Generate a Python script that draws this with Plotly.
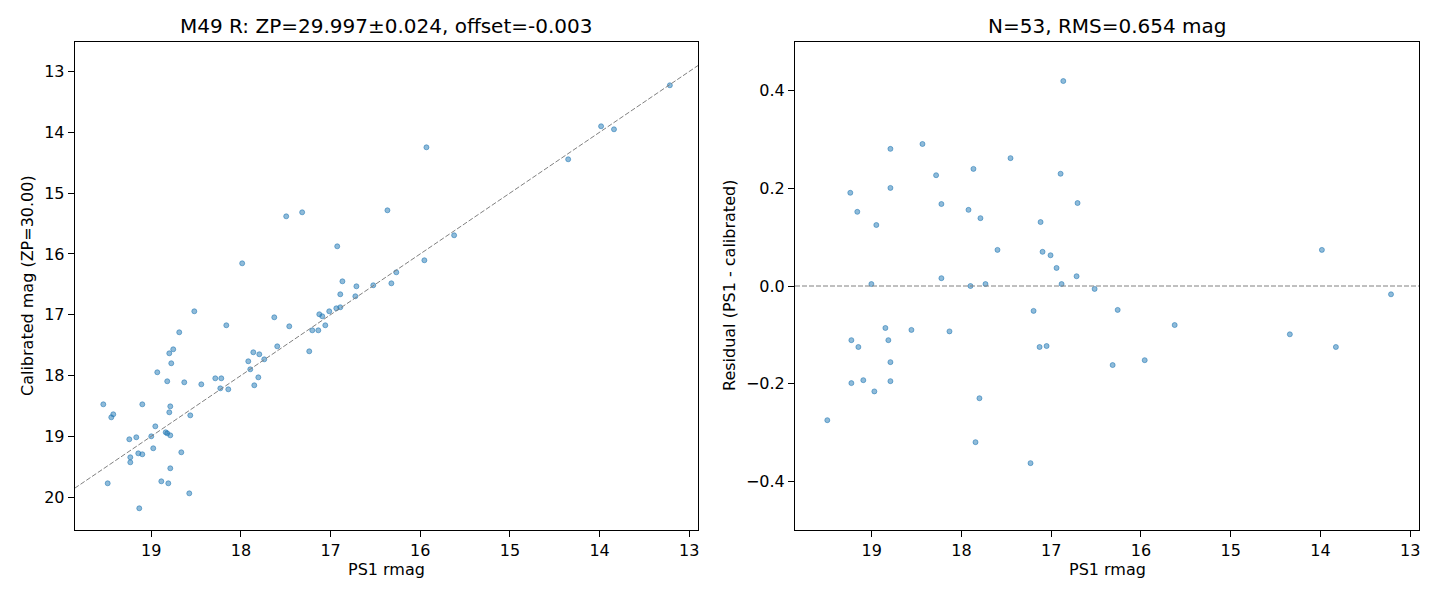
import plotly.graph_objects as go
from plotly.subplots import make_subplots

# left panel: all matched stars
calib_ps1 = [13.216, 13.983, 13.839, 14.350, 15.931, 17.495, 17.317, 16.366, 15.622, 16.926,
             17.986, 15.954, 16.267, 16.322, 16.868, 16.712, 16.524, 16.892, 16.724, 18.520,
             18.163, 17.628, 17.461, 17.126, 17.093, 17.015, 16.936, 16.892, 17.059, 17.204,
             17.137, 17.595, 17.238, 18.688, 18.755, 18.799, 18.777, 18.933, 18.822, 18.632,
             18.442, 18.286, 18.219, 18.230, 18.141, 17.918, 17.896, 17.862, 17.795, 17.740,
             17.806, 17.851, 19.535, 19.424, 19.446, 19.100, 18.788, 18.799, 18.565, 18.955,
             19.000, 19.167, 19.245, 18.839, 18.822, 18.788, 18.978, 19.234, 19.234, 19.145,
             19.100, 18.665, 18.788, 19.486, 18.888, 18.810, 18.576, 19.134]
calib_mag = [13.227, 13.901, 13.951, 14.444, 14.247, 15.382, 15.316, 15.283, 15.694, 15.875,
             16.155, 16.105, 16.303, 16.484, 16.451, 16.533, 16.516, 16.664, 16.697, 16.944,
             17.174, 17.043, 17.191, 16.993, 17.026, 16.944, 16.895, 16.878, 17.174, 17.257,
             17.257, 17.520, 17.602, 17.289, 17.569, 17.635, 17.799, 17.947, 18.095, 18.112,
             18.145, 18.046, 18.046, 18.211, 18.227, 17.766, 17.898, 17.618, 17.651, 17.734,
             18.030, 18.161, 18.474, 18.638, 18.688, 18.474, 18.507, 18.605, 18.655, 18.836,
             19.000, 19.016, 19.049, 18.934, 18.951, 18.984, 19.197, 19.345, 19.428, 19.280,
             19.296, 19.263, 19.526, 19.773, 19.740, 19.773, 19.938, 20.184]

# right panel: residuals of the stars kept in the fit
resid_ps1 = [16.865, 18.434, 18.791, 17.453, 17.866, 16.895, 18.282, 19.238, 18.791, 16.706,
             18.223, 19.160, 17.921, 17.788, 17.118, 18.948, 17.598, 17.096, 17.007, 16.940,
             16.717, 18.223, 19.003, 17.899, 17.732, 16.884, 16.516, 17.196, 16.259, 18.847,
             18.557, 18.133, 19.226, 18.814, 19.148, 17.129, 17.051, 18.791, 16.315, 19.226,
             19.093, 18.791, 18.970, 17.799, 19.494, 17.843, 17.230, 15.958, 15.624, 14.341,
             13.984, 13.828, 13.214]
resid_val = [0.420, 0.291, 0.281, 0.262, 0.240, 0.230, 0.227, 0.191, 0.201, 0.170,
             0.168, 0.152, 0.156, 0.139, 0.131, 0.125, 0.074, 0.070, 0.063, 0.037,
             0.020, 0.016, 0.004, 0.000, 0.004, 0.004, -0.006, -0.051, -0.049, -0.086,
             -0.090, -0.093, -0.111, -0.111, -0.125, -0.125, -0.123, -0.156, -0.162, -0.199,
             -0.193, -0.195, -0.216, -0.230, -0.275, -0.320, -0.363, -0.152, -0.080, -0.099,
             0.074, -0.125, -0.017]

left_title = "M49 R: ZP=29.997±0.024, offset=-0.003"
right_title = "N=53, RMS=0.654 mag"

xlim = [19.854, 12.902]
ylim_left = [20.541, 12.515]
ylim_right = [-0.5, 0.5]

W, H = 1440, 600
SH = 8  # page body margin pushes the plot 8px right/down
FONT = "DejaVu Sans"
dot = dict(size=5, color="rgba(31,119,180,0.5)",
           line=dict(color="rgba(31,119,180,0.55)", width=1))

fig = make_subplots(rows=1, cols=2)

fig.add_trace(go.Scatter(x=calib_ps1, y=calib_mag, mode="markers", marker=dot,
                         showlegend=False), row=1, col=1)
fig.add_trace(go.Scatter(x=resid_ps1, y=resid_val, mode="markers", marker=dot,
                         showlegend=False), row=1, col=2)

# one-to-one line and zero line
fig.add_trace(go.Scatter(x=xlim, y=xlim, mode="lines", showlegend=False,
                         line=dict(color="gray", width=1, dash="5px,2px")), row=1, col=1)
fig.add_trace(go.Scatter(x=xlim, y=[0, 0], mode="lines", showlegend=False,
                         line=dict(color="gray", width=1, dash="5px,2px")), row=1, col=2)

ax = dict(showline=True, linecolor="black", linewidth=1, mirror=True, ticks="outside",
          ticklen=6, tickcolor="black", showgrid=False, zeroline=False, automargin=False,
          tickfont=dict(family=FONT, size=16, color="black"))

x_dom1 = [(74.7 - SH) / W, (698 - SH) / W]
x_dom2 = [(795 - SH) / W, (1419 - SH) / W]
y_dom = [1 - (530 - SH) / H, 1 - (42 - SH) / H]

fig.update_xaxes(ax, range=xlim, dtick=1, tick0=13)
fig.update_xaxes(domain=x_dom1, row=1, col=1)
fig.update_xaxes(domain=x_dom2, row=1, col=2)
fig.update_yaxes(ax, domain=y_dom)
fig.update_yaxes(range=ylim_left, dtick=1, tick0=13, row=1, col=1)
ticks_r = [-0.4, -0.2, 0.0, 0.2, 0.4]
fig.update_yaxes(range=ylim_right, tickvals=ticks_r,
                 ticktext=[f"{v:.1f}".replace("-", "\u2212") for v in ticks_r], row=1, col=2)

def label(text, x, y, size=16, angle=0):
    fig.add_annotation(text=text, x=x, y=y, xref="paper", yref="paper", showarrow=False,
                       textangle=angle, xanchor="center", yanchor="middle",
                       font=dict(family=FONT, size=size, color="black"))

label(left_title, sum(x_dom1) / 2, 1 - (26 - SH) / H, size=20)
label(right_title, sum(x_dom2) / 2, 1 - (26 - SH) / H, size=20)
label("PS1 rmag", sum(x_dom1) / 2, 1 - (569 - SH) / H)
label("PS1 rmag", sum(x_dom2) / 2, 1 - (569 - SH) / H)
label("Calibrated mag (ZP=30.00)", (27 - SH) / W, sum(y_dom) / 2, angle=-90)
label("Residual (PS1 - calibrated)", (729 - SH) / W, sum(y_dom) / 2, angle=-90)

fig.update_layout(width=W, height=H, margin=dict(l=0, r=0, t=0, b=0),
                  paper_bgcolor="white", plot_bgcolor="white")

fig.write_html("out.html")
